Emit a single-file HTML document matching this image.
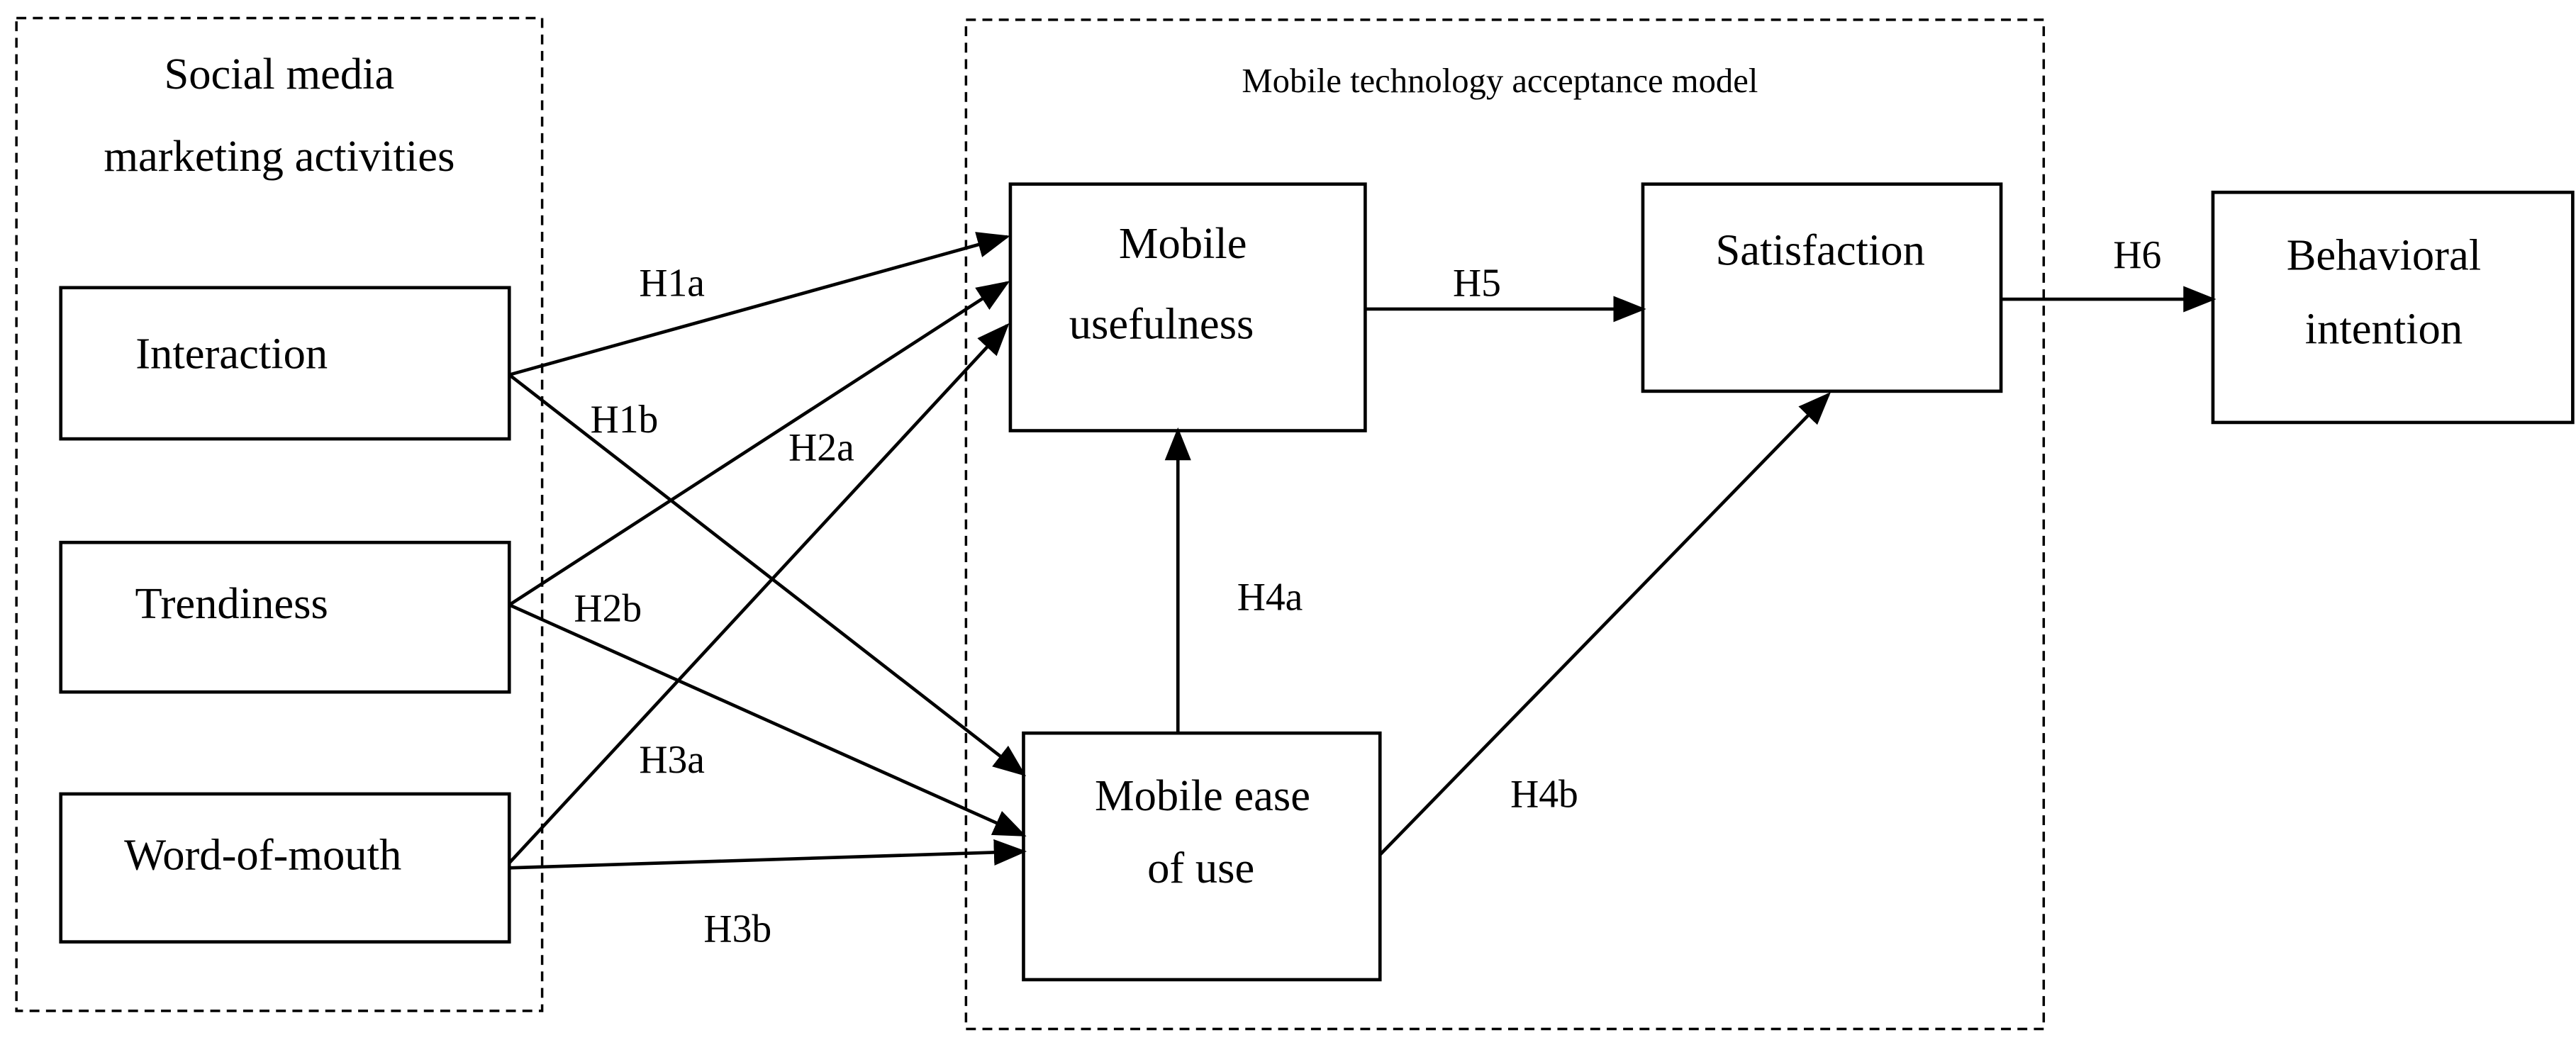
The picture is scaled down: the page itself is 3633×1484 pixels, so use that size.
<!DOCTYPE html>
<html><head><meta charset="utf-8"><style>
html,body{margin:0;padding:0;background:#fff;}
svg{display:block;}
text{font-family:"Liberation Serif",serif;fill:#000;}
</style></head><body>
<svg width="3633" height="1484" viewBox="0 0 1568 640" preserveAspectRatio="none" xmlns="http://www.w3.org/2000/svg">
<defs>
<marker id="a" markerWidth="10" markerHeight="10" refX="9" refY="5" orient="auto" markerUnits="userSpaceOnUse" viewBox="0 0 10 10">
<path d="M0,0 L10,5 L0,10 z" fill="#000"/>
</marker>
<marker id="b" markerWidth="20" markerHeight="20" refX="18" refY="10" orient="auto" markerUnits="userSpaceOnUse" viewBox="0 0 20 20">
<path d="M0,2 L20,10 L0,18 z" fill="#000"/>
</marker>
</defs>
<g fill="none" stroke="#000" stroke-width="1.5" stroke-dasharray="6,4">
<rect x="10" y="11" width="320" height="604"/>
<rect x="588" y="12" width="656" height="614"/>
</g>
<g fill="#fff" stroke="#000" stroke-width="2">
<rect x="37" y="175" width="273" height="92"/>
<rect x="37" y="330" width="273" height="91"/>
<rect x="37" y="483" width="273" height="90"/>
<rect x="615" y="112" width="216" height="150"/>
<rect x="623" y="446" width="217" height="150"/>
<rect x="1000" y="112" width="218" height="126"/>
<rect x="1347" y="117" width="219" height="140"/>
</g>
<g stroke="#000" stroke-width="2" fill="none" marker-end="url(#b)">
<line x1="310" y1="228" x2="613" y2="144"/>
<line x1="310" y1="228" x2="623" y2="471"/>
<line x1="310" y1="368" x2="613" y2="172"/>
<line x1="310" y1="368" x2="623" y2="508"/>
<line x1="310" y1="525" x2="613" y2="198"/>
<line x1="310" y1="528" x2="623" y2="518"/>
<line x1="717" y1="446" x2="717" y2="262"/>
<line x1="840" y1="520" x2="1113" y2="240"/>
<line x1="831" y1="188" x2="1000" y2="188"/>
<line x1="1218" y1="182" x2="1347" y2="182"/>
</g>
<g font-size="27" text-anchor="middle">
<text x="170" y="54">Social media</text>
<text x="170" y="104">marketing activities</text>
<text x="913" y="56" font-size="21">Mobile technology acceptance model</text>
<text x="141" y="224">Interaction</text>
<text x="141" y="376">Trendiness</text>
<text x="160" y="529">Word-of-mouth</text>
<text x="720" y="157">Mobile</text>
<text x="707" y="206">usefulness</text>
<text x="732" y="493">Mobile ease</text>
<text x="731" y="537">of use</text>
<text x="1108" y="161">Satisfaction</text>
<text x="1451" y="164">Behavioral</text>
<text x="1451" y="209">intention</text>
</g>
<g font-size="24" text-anchor="middle">
<text x="409" y="180">H1a</text>
<text x="380" y="263">H1b</text>
<text x="500" y="280">H2a</text>
<text x="370" y="378">H2b</text>
<text x="409" y="470">H3a</text>
<text x="449" y="573">H3b</text>
<text x="773" y="371">H4a</text>
<text x="940" y="491">H4b</text>
<text x="899" y="180">H5</text>
<text x="1301" y="163">H6</text>
</g>
</svg>
</body></html>
